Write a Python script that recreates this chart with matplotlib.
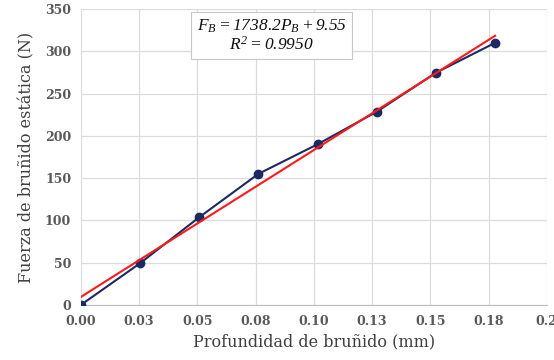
import numpy as np
import matplotlib
matplotlib.use("Agg")
import matplotlib.pyplot as plt

# profundidad de bruñido (mm) y fuerza estática (N)
profundidad = [0.0, 0.0254, 0.0508, 0.0762, 0.1016, 0.1270, 0.1524, 0.1778]
fuerza = [0.0, 49.3, 103.7, 155.0, 190.0, 228.5, 274.6, 310.0]
x_ticks = [0.0, 0.025, 0.05, 0.075, 0.1, 0.125, 0.15, 0.175, 0.2]
x_tick_labels = ["0.00", "0.03", "0.05", "0.08", "0.10", "0.13", "0.15", "0.18", "0.2"]
y_ticks = [0, 50, 100, 150, 200, 250, 300, 350]

plt.rcParams['font.family'] = ['DejaVu Serif']
plt.rcParams['mathtext.fontset'] = 'custom'
plt.rcParams['mathtext.rm'] = 'Liberation Serif:italic'
plt.rcParams['mathtext.it'] = 'Liberation Serif:italic'

fig = plt.figure(figsize=(5.54, 3.6), dpi=100)
ax = fig.add_axes([0.146, 0.153, 0.841, 0.822])

# ajuste lineal
pend, orden = np.polyfit(profundidad, fuerza, 1)
xs = np.array([profundidad[0], profundidad[-1]])

ax.plot(profundidad, fuerza, '-o', color='#1b2a63', lw=1.5, ms=6, zorder=3)
ax.plot(xs, pend * xs + orden, color='#ff1a1a', lw=1.5, zorder=4)

ax.set_xlim(0, 0.2)
ax.set_ylim(0, 350)
ax.set_xticks(x_ticks)
ax.set_xticklabels(x_tick_labels)
ax.set_yticks(y_ticks)
ax.grid(True, color='#dcdcdc', lw=0.9)
ax.set_axisbelow(True)
for s in ['top', 'right', 'left']:
    ax.spines[s].set_visible(False)
ax.spines['bottom'].set_color('#bfbfbf')
ax.tick_params(length=0, labelsize=9, colors='#595959', pad=7)
for lbl in ax.get_xticklabels() + ax.get_yticklabels():
    lbl.set_fontweight('bold')

ax.set_xlabel('Profundidad de bruñido (mm)', fontsize=11.5, color='#404040', labelpad=4)
ax.set_ylabel('Fuerza de bruñido estática (N)', fontsize=11.5, color='#404040', labelpad=7)

ax.text(0.0819, 318, '$F_B = 1738.2P_B + 9.55$\n$R^2 = 0.9950$', fontsize=12.5,
        ha='center', va='center', linespacing=1.05, color='#111111',
        bbox=dict(boxstyle='square,pad=0.3', fc='white', ec='#c8c8c8', lw=0.8))

fig.savefig('out.png', dpi=100)
